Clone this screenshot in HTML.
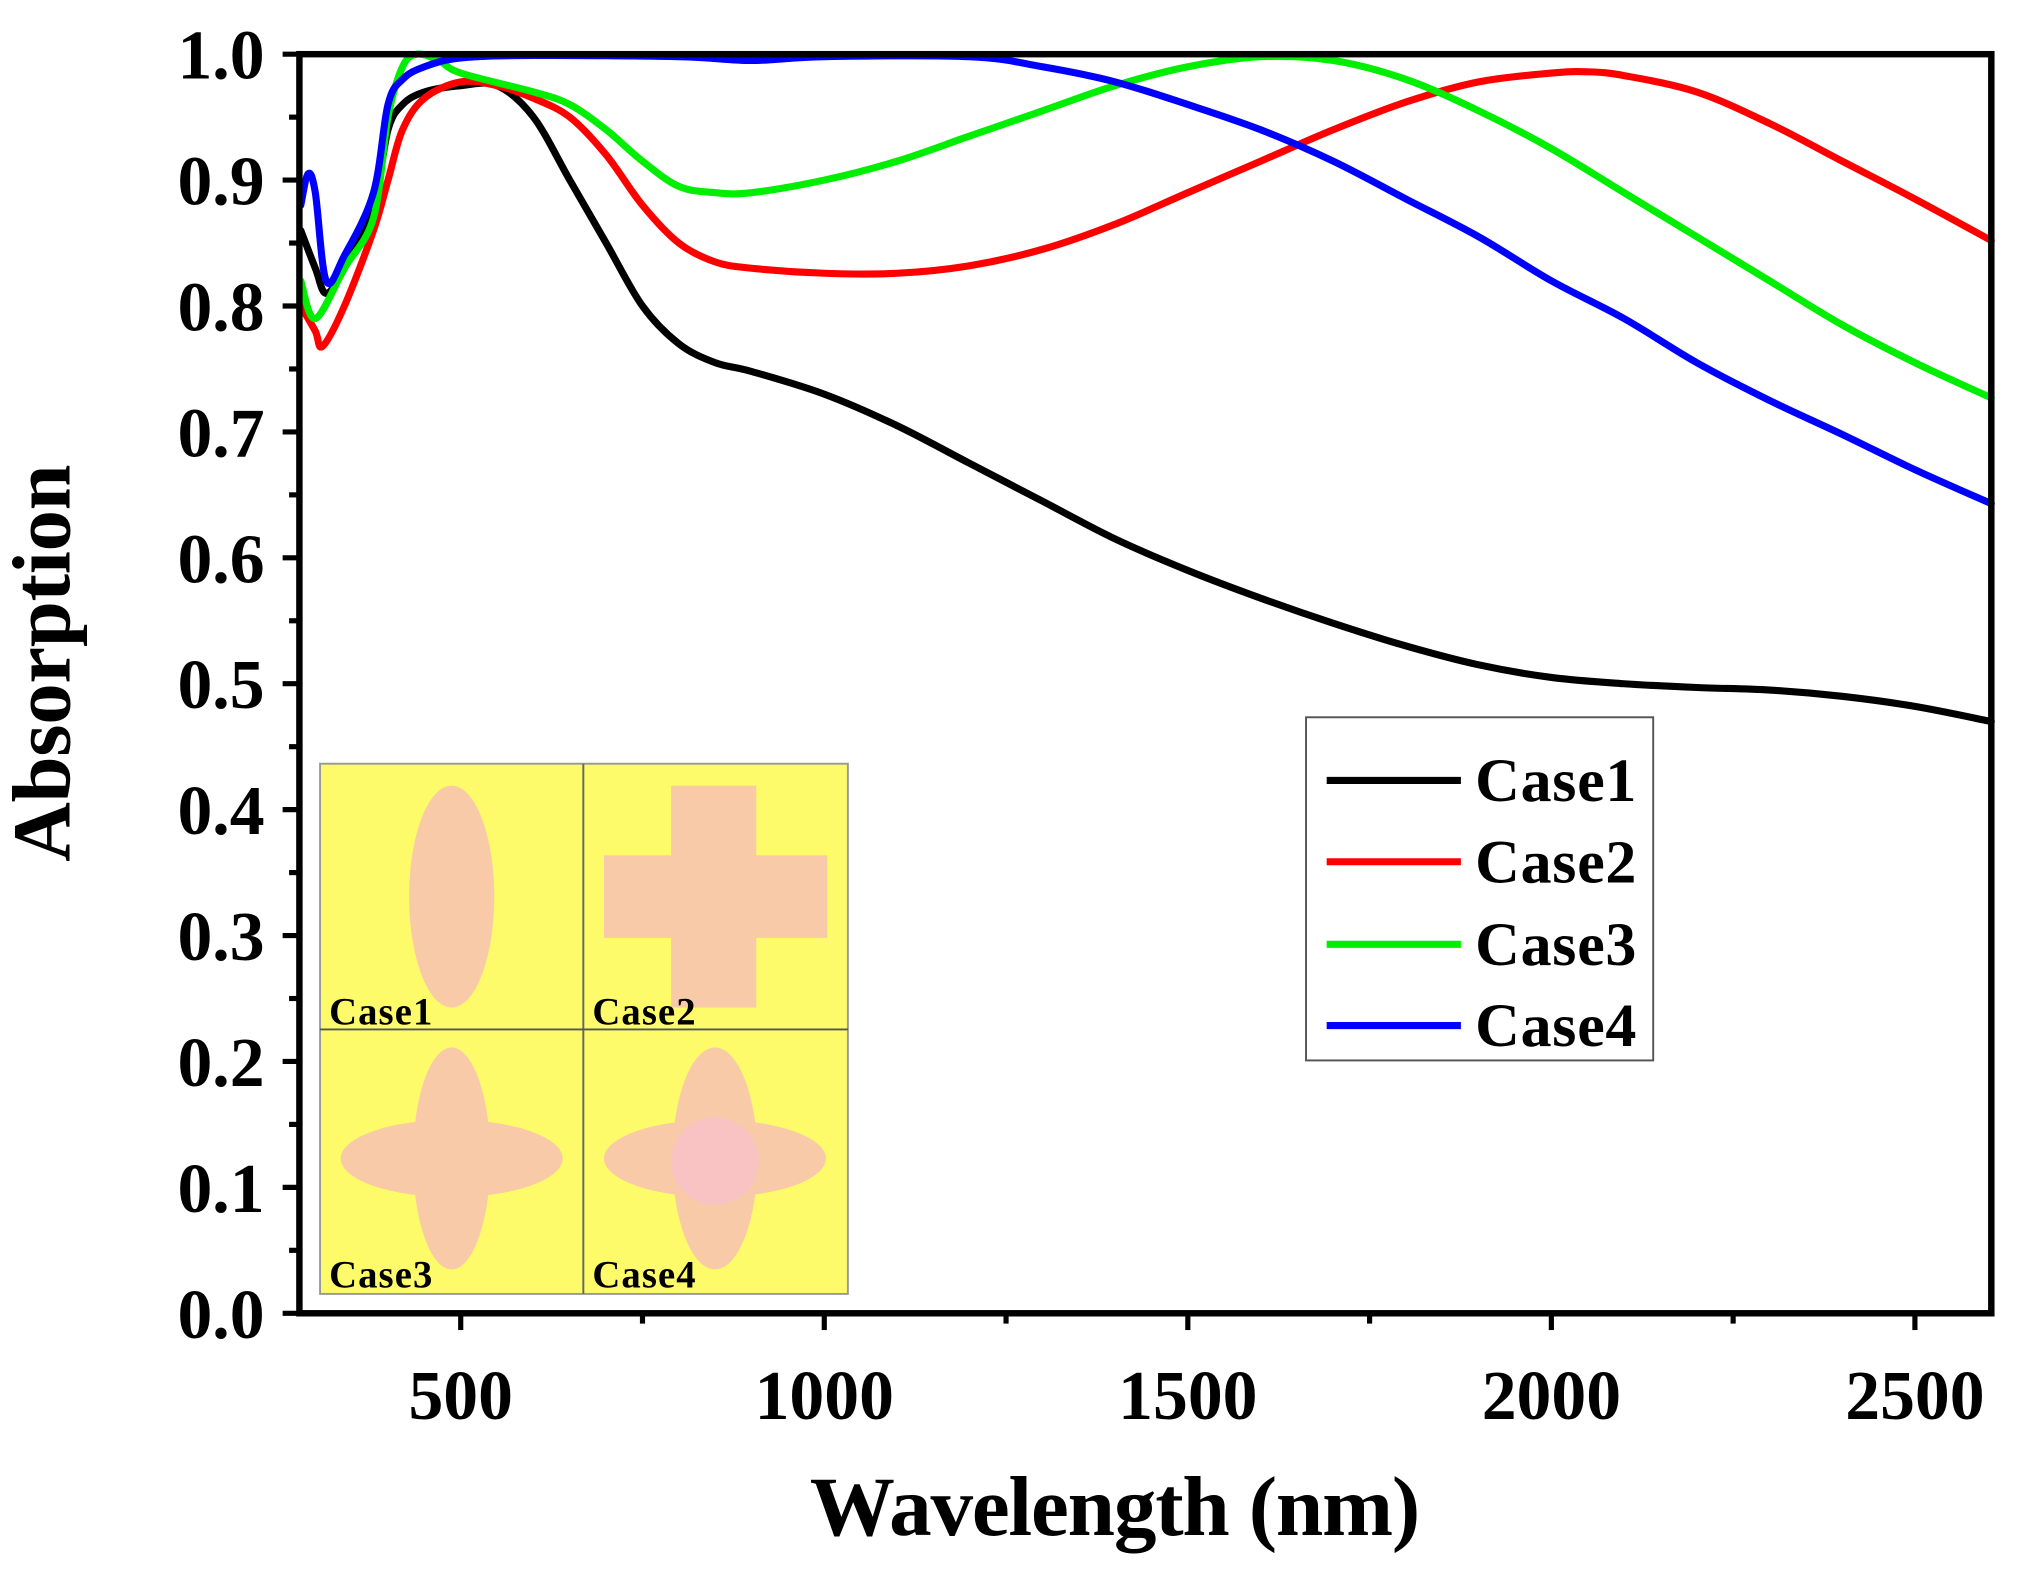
<!DOCTYPE html>
<html><head><meta charset="utf-8"><style>html,body{margin:0;padding:0;background:#fff}svg{display:block}</style></head>
<body>
<svg id="s" width="2021" height="1570" viewBox="0 0 1566 1217" preserveAspectRatio="none" xmlns="http://www.w3.org/2000/svg" font-family="Liberation Serif, serif" font-weight="bold">
<g id="curves" fill="none" stroke-width="5.5" stroke-linejoin="round" stroke-linecap="round"></g>
<g>
<rect x="248" y="592" width="409" height="411" fill="#fdfb6a" stroke="#999" stroke-width="1.5"/>
<line x1="452" y1="592" x2="452" y2="1003" stroke="#666" stroke-width="1.5"/>
<line x1="248" y1="798" x2="657" y2="798" stroke="#555" stroke-width="1.5"/>
<ellipse cx="350" cy="695" rx="33" ry="86" fill="#f9caa7"/>
<rect x="520" y="609" width="66" height="172" fill="#f9caa7"/>
<rect x="468" y="663" width="173" height="64" fill="#f9caa7"/>
<ellipse cx="350" cy="898" rx="30" ry="86" fill="#f9caa7"/>
<ellipse cx="350" cy="898" rx="86" ry="30" fill="#f9caa7"/>
<ellipse cx="554" cy="898" rx="33" ry="86" fill="#f9caa7"/>
<ellipse cx="554" cy="898" rx="86" ry="30" fill="#f9caa7"/>
<circle cx="554" cy="900" r="34" fill="#f9c3c3"/>
<g font-size="30" fill="#000">
<text x="255" y="794" textLength="80">Case1</text><text x="459" y="794" textLength="80">Case2</text>
<text x="255" y="998" textLength="80">Case3</text><text x="459" y="998" textLength="80">Case4</text>
</g>
</g>
<rect x="1012" y="556" width="269" height="266" fill="#fff" stroke="#555" stroke-width="1.5"/>
<g stroke-width="5.5">
<line x1="1028" y1="605" x2="1132" y2="605" stroke="#000"/>
<line x1="1028" y1="668" x2="1132" y2="668" stroke="#ff0000"/>
<line x1="1028" y1="732" x2="1132" y2="732" stroke="#00ee00"/>
<line x1="1028" y1="795" x2="1132" y2="795" stroke="#0000ff"/>
</g>
<g font-size="48" fill="#000">
<text x="1143" y="621" textLength="125">Case1</text><text x="1143" y="684" textLength="125">Case2</text>
<text x="1143" y="748" textLength="125">Case3</text><text x="1143" y="811" textLength="125">Case4</text>
</g>
<rect x="232" y="42" width="1311" height="976" fill="none" stroke="#000" stroke-width="5"/>
<g id="ticks" stroke="#000" stroke-width="4"></g>
<g id="labels" font-size="54" fill="#000"></g>
<text x="864" y="1190" font-size="66" text-anchor="middle" textLength="473">Wavelength (nm)</text>
<text transform="translate(54,514) rotate(-90)" font-size="64" text-anchor="middle" textLength="308">Absorption</text>
</svg>
<script>
const NS="http://www.w3.org/2000/svg";
const X=nm=>357+(nm-500)*0.5634, Y=a=>1018-a*976;
function el(t,a,p){const e=document.createElementNS(NS,t);for(const k in a)e.setAttribute(k,a[k]);p.appendChild(e);return e;}
const tk=document.getElementById('ticks'),lb=document.getElementById('labels');
for(let i=0;i<=20;i++){const y=Y(i*0.05),maj=i%2==0;el('line',{x1:232,x2:232-(maj?13:8),y1:y,y2:y},tk);
 if(maj){const t=el('text',{x:205,y:y+19,'text-anchor':'end'},lb);t.textContent=(i*0.05).toFixed(1);}}
for(let nm=500;nm<=2500;nm+=250){const x=X(nm),maj=nm%500==0;el('line',{x1:x,x2:x,y1:1018,y2:1018+(maj?13:8)},tk);
 if(maj){const t=el('text',{x:x,y:1100,'text-anchor':'middle'},lb);t.textContent=nm;}}
const D={
"#000":[[280,.86],[300,.83],[315,.81],[340,.83],[380,.88],[400,.94],[420,.96],[450,.97],[500,.975],[550,.975],[600,.95],[650,.9],[700,.85],[750,.8],[800,.77],[850,.755],[900,.748],[1000,.73],[1100,.705],[1200,.675],[1300,.645],[1400,.615],[1500,.59],[1600,.568],[1700,.548],[1800,.53],[1900,.515],[2000,.505],[2100,.5],[2200,.497],[2300,.495],[2400,.49],[2500,.482],[2605,.47]],
"#ff0000":[[280,.8],[300,.78],[310,.768],[340,.8],[380,.86],[400,.9],[420,.94],[450,.965],[500,.978],[550,.975],[600,.965],[650,.95],[700,.92],[750,.88],[800,.85],[850,.835],[900,.83],[1000,.826],[1100,.826],[1200,.832],[1300,.845],[1400,.865],[1500,.89],[1600,.915],[1700,.94],[1800,.962],[1900,.978],[2000,.985],[2050,.986],[2100,.983],[2200,.97],[2300,.945],[2400,.915],[2500,.885],[2605,.852]],
"#00ee00":[[280,.82],[300,.79],[340,.83],[380,.87],[400,.95],[420,.99],[440,1.0],[470,.995],[500,.985],[600,.97],[650,.96],[700,.94],[750,.915],[800,.895],[850,.89],[900,.89],[1000,.9],[1100,.915],[1200,.935],[1300,.955],[1400,.975],[1500,.99],[1600,.998],[1700,.995],[1800,.98],[1900,.955],[2000,.925],[2100,.89],[2200,.855],[2300,.82],[2400,.785],[2500,.755],[2605,.727]],
"#0000ff":[[280,.88],[290,.905],[300,.89],[315,.82],[340,.84],[380,.89],[400,.96],[420,.98],[450,.99],[500,.997],[600,.999],[800,.998],[900,.995],[1000,.998],[1200,.998],[1300,.99],[1400,.978],[1500,.96],[1600,.94],[1700,.915],[1800,.885],[1900,.855],[2000,.82],[2100,.79],[2200,.755],[2300,.725],[2400,.698],[2500,.67],[2605,.643]]};
const cg=document.getElementById('curves');
for(const c in D){const pts=D[c].map(p=>[X(p[0]),Y(p[1])]);
 let d="M"+pts[0].join(",");
 for(let i=0;i<pts.length-1;i++){const p0=pts[Math.max(i-1,0)],p1=pts[i],p2=pts[i+1],p3=pts[Math.min(i+2,pts.length-1)];
  d+=` C${p1[0]+(p2[0]-p0[0])/6},${p1[1]+(p2[1]-p0[1])/6} ${p2[0]-(p3[0]-p1[0])/6},${p2[1]-(p3[1]-p1[1])/6} ${p2[0]},${p2[1]}`;}
 el('path',{d:d,stroke:c},cg);}
</script>
</body></html>
